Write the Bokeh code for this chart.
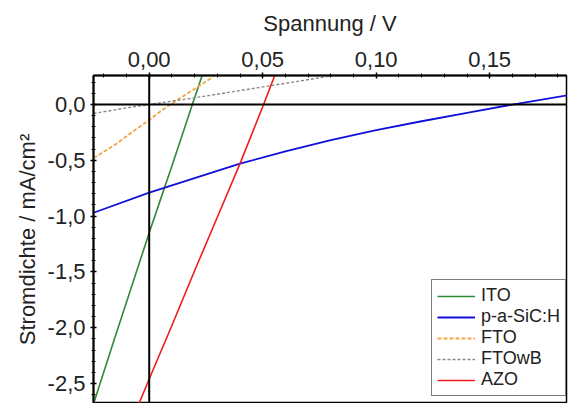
from bokeh.plotting import figure
from bokeh.models import Span, FixedTicker, Legend, LegendItem, Range1d
from bokeh.embed import file_html
from bokeh.resources import INLINE

# ---- data ----
ito_v = [-0.0245, -0.015, -0.005, 0.0, 0.005, 0.010, 0.019, 0.0235]
ito_j = [-2.68, -2.08, -1.46, -1.15, -0.85, -0.55, 0.0, 0.27]

sic_v = [-0.0245, 0.0, 0.02, 0.04, 0.06, 0.08, 0.10, 0.12, 0.14, 0.16, 0.185]
sic_j = [-0.97, -0.79, -0.66, -0.53, -0.42, -0.32, -0.23, -0.15, -0.075, 0.0, 0.085]

fto_v = [-0.0245, -0.015, -0.005, 0.0, 0.005, 0.010, 0.020, 0.029]
fto_j = [-0.48, -0.36, -0.21, -0.14, -0.06, 0.01, 0.14, 0.26]

ftowb_v = [-0.0245, -0.01, 0.0, 0.02, 0.04, 0.06, 0.083]
ftowb_j = [-0.08, -0.03, 0.0, 0.06, 0.125, 0.19, 0.265]

azo_v = [-0.0045, 0.0, 0.01, 0.02, 0.03, 0.04, 0.05, 0.0555]
azo_j = [-2.68, -2.46, -1.98, -1.49, -1.01, -0.53, -0.02, 0.27]

series_names = ["ITO", "p-a-SiC:H", "FTO", "FTOwB", "AZO"]

x_ticks = [0.0, 0.05, 0.10, 0.15]
x_tick_labels = ["0,00", "0,05", "0,10", "0,15"]
x_minor = [-0.02, -0.01, 0.01, 0.02, 0.03, 0.04, 0.06, 0.07, 0.08, 0.09,
           0.11, 0.12, 0.13, 0.14, 0.16, 0.17, 0.18]
y_ticks = [0.0, -0.5, -1.0, -1.5, -2.0, -2.5]
y_tick_labels = ["0,0", "-0,5", "-1,0", "-1,5", "-2,0", "-2,5"]
y_minor = [0.2, 0.1, -0.1, -0.2, -0.3, -0.4, -0.6, -0.7, -0.8, -0.9,
           -1.1, -1.2, -1.3, -1.4, -1.6, -1.7, -1.8, -1.9,
           -2.1, -2.2, -2.3, -2.4, -2.6]

FONT = "Liberation Sans"

p = figure(width=568, height=403,
           x_range=Range1d(-0.02454, 0.18383),
           y_range=Range1d(-2.679, 0.26),
           x_axis_location="above",
           output_backend="svg", toolbar_location=None,
           min_border_left=93, min_border_top=75,
           min_border_right=2, min_border_bottom=0)

p.background_fill_color = "white"
p.border_fill_color = "white"
p.xgrid.visible = False
p.ygrid.visible = False
p.outline_line_color = "black"
p.outline_line_width = 1.5
p.outline_line_alpha = 1.0

xa = p.xaxis[0]
xa.ticker = FixedTicker(ticks=x_ticks, minor_ticks=x_minor)
xa.major_label_overrides = {t: l for t, l in zip(x_ticks, x_tick_labels)}
xa.axis_label = "Spannung / V"
ya = p.yaxis[0]
ya.ticker = FixedTicker(ticks=y_ticks, minor_ticks=y_minor)
ya.major_label_overrides = {t: l for t, l in zip(y_ticks, y_tick_labels)}
ya.axis_label = "Stromdichte / mA/cm²"

for ax in (xa, ya):
    ax.axis_line_color = "black"
    ax.axis_line_width = 2
    ax.major_tick_line_color = "black"
    ax.minor_tick_line_color = "black"
    ax.major_tick_line_width = 1.5
    ax.minor_tick_line_width = 1
    ax.major_tick_out = 3
    ax.major_tick_in = 3
    ax.minor_tick_out = 2
    ax.minor_tick_in = 2
    ax.major_label_text_font = FONT
    ax.major_label_text_font_size = "22px"
    ax.major_label_text_color = "#222222"
    ax.axis_label_text_font = FONT
    ax.axis_label_text_font_size = "22px"
    ax.axis_label_text_font_style = "normal"
    ax.axis_label_text_color = "#222222"
xa.major_label_standoff = 6
xa.axis_label_standoff = 13
ya.major_label_standoff = 5
ya.axis_label_standoff = 5

r_ito = p.line(ito_v, ito_j, line_color="#2f8a35", line_width=1.6)
r_sic = p.line(sic_v, sic_j, line_color="#1010d8", line_width=1.8)
r_fto = p.line(fto_v, fto_j, line_color="#f2a540", line_width=1.8, line_dash="4 2")
r_fwb = p.line(ftowb_v, ftowb_j, line_color="#8a8a8a", line_width=1.4, line_dash="3 2")
r_azo = p.line(azo_v, azo_j, line_color="#ee1c1c", line_width=1.6)

p.add_layout(Span(location=0, dimension="height", line_color="black", line_width=2))
p.add_layout(Span(location=0, dimension="width", line_color="black", line_width=2))

legend = Legend(items=[LegendItem(label=n, renderers=[r]) for n, r in
                       zip(series_names, [r_ito, r_sic, r_fto, r_fwb, r_azo])],
                location=(338, 7), margin=0, padding=5, spacing=0,
                label_height=20, glyph_height=20, glyph_width=38,
                label_standoff=6,
                label_text_font=FONT, label_text_font_size="18px",
                label_text_color="#222222",
                border_line_color="black", border_line_width=1.5,
                background_fill_color="white", background_fill_alpha=1.0)
p.add_layout(legend)

open("out.html", "w").write(file_html(p, INLINE))
